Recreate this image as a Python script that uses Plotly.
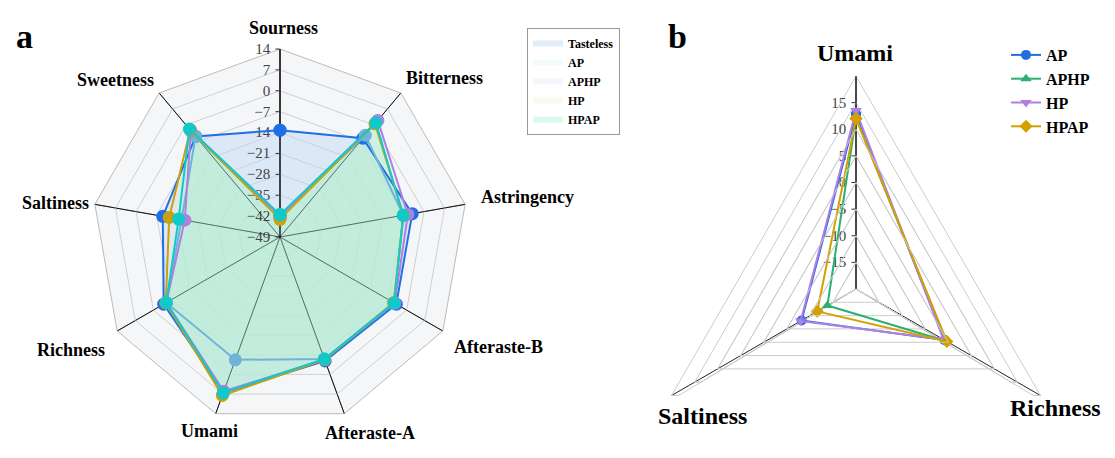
import math
import plotly.graph_objects as go

# ---------------- Panel a data ----------------
categories_a = ["Sourness", "Bitterness", "Astringency", "Afteraste-B", "Afteraste-A",
                "Umami", "Richness", "Saltiness", "Sweetness"]
series_a = ["Tasteless", "AP", "APHP", "HP", "HPAP"]
tasteless = [-13.2, -5.8, -4.0, -4.0, -4.8, 6.5, -4.0, -9.1, -5.0]
ap_a = [-42.0, -4.5, -7.0, -5.0, -5.5, -5.2, -5.0, -15.5, -5.0]
aphp_a = [-42.0, 2.0, -5.5, -4.6, -5.3, 6.0, -5.0, -16.6, -2.5]
hp_a = [-43.0, 0.5, -7.0, -5.0, -5.3, 7.5, -4.8, -11.3, -2.2]
hpap_a = [-41.5, 1.0, -7.1, -4.8, -5.5, 6.6, -5.0, -14.5, -1.8]
values_a = [tasteless, ap_a, aphp_a, hp_a, hpap_a]
ticks_a = [-49, -42, -35, -28, -21, -14, -7, 0, 7, 14]

# ---------------- Panel b data ----------------
categories_b = ["Umami", "Richness", "Saltiness"]
series_b = ["AP", "APHP", "HP", "HPAP"]
ap_b = [12.8, -0.8, -8.2]
aphp_b = [12.2, -0.5, -13.8]
hp_b = [13.5, -1.0, -8.0]
hpap_b = [12.0, -0.3, -11.6]
values_b = [ap_b, aphp_b, hp_b, hpap_b]
ticks_b = [-15, -10, -5, 0, 5, 10, 15]
range_b = [-20, 20]
lower_range_b = [-20, 10]      # lower part of panel b (bottom side of the triangle)

# ---------------- styles ----------------
SERIF = "Liberation Serif, Times New Roman, serif"
line_a = ["#1f6fe5", "#6fb3d8", "#b07fe0", "#c9a010", "#12c9c9"]
fill_a = ["rgba(190,215,243,0.45)", "rgba(195,235,215,0.2)", "rgba(200,215,240,0.2)",
          "rgba(232,240,190,0.25)", "rgba(160,245,210,0.4)"]
line_b = ["#1f6fe0", "#2ab071", "#b07fe6", "#d4a000"]
sym_b = ["circle", "triangle-up", "triangle-down", "diamond"]
GRID_B = "#cccccc"

# the page body has an 8px margin: work in screen coords and shift
OFF = 8
W, H = 1115 - OFF, 458 - OFF


def px(x):
    return (x - OFF) / W


def py(y):
    return 1 - (y - OFF) / H


def closed(v, c):
    return list(v) + [v[0]], list(c) + [c[0]]


fig = go.Figure()

# panel a: translucent areas (legend swatches) on the polygon-grid subplot
for name, v, fc in zip(series_a, values_a, fill_a):
    r, t = closed(v, categories_a)
    fig.add_trace(go.Scatterpolar(r=r, theta=t, mode="none", fill="toself",
                                  fillcolor=fc, name=name, subplot="polar",
                                  legend="legend", hoverinfo="skip"))
# panel a: lines + markers on a transparent overlay subplot
for name, v, lc in zip(series_a, values_a, line_a):
    r, t = closed(v, categories_a)
    fig.add_trace(go.Scatterpolar(r=r, theta=t, mode="lines+markers",
                                  line=dict(color=lc, width=2),
                                  marker=dict(size=13, color=lc),
                                  name=name, subplot="polar2", showlegend=False))

# panel b: bottom edge of the outermost labelled ring (grid subplot)
fig.add_trace(go.Scatterpolar(r=[ticks_b[-1], ticks_b[-1]], theta=categories_b[1:3],
                              mode="lines", line=dict(color=GRID_B, width=1),
                              subplot="polar3", showlegend=False, hoverinfo="skip",
                              cliponaxis=False))
# panel b: series (upper sector view)
for name, v, lc, s in zip(series_b, values_b, line_b, sym_b):
    r, t = closed(v, categories_b)
    fig.add_trace(go.Scatterpolar(r=r, theta=t, mode="lines+markers",
                                  line=dict(color=lc, width=2),
                                  marker=dict(size=10, color=lc, symbol=s),
                                  name=name, subplot="polar4", legend="legend2",
                                  cliponaxis=False))
# panel b: the Richness-Saltiness side of each series (lower full-circle view)
for name, v, lc in zip(series_b, values_b, line_b):
    fig.add_trace(go.Scatterpolar(r=v[1:3], theta=categories_b[1:3], mode="lines",
                                  line=dict(color=lc, width=2), name=name,
                                  subplot="polar5", showlegend=False, hoverinfo="skip"))

# ---------- geometry (screen px) ----------
ca, ra = (280, 237), 188
cb, rb = (856, 289), 213
sector_b = [-31, 211]
rb_low = rb * (lower_range_b[1] - lower_range_b[0]) / (range_b[1] - range_b[0])


def dom_full(c, r):
    cx, cy = c[0] - OFF, c[1] - OFF
    return [(cx - r) / W, (cx + r) / W], [1 - (cy + r) / H, 1 - (cy - r) / H]


def dom_sector(c, r, sec):
    cx, cy = c[0] - OFF, c[1] - OFF
    ymin = min(0, math.sin(math.radians(sec[0])), math.sin(math.radians(sec[1])))
    top, bot = cy - r, cy - ymin * r
    return [(cx - r) / W, (cx + r) / W], [1 - bot / H, 1 - top / H]


dxa, dya = dom_full(ca, ra)
dxb, dyb = dom_sector(cb, rb, sector_b)
dxl, dyl = dom_full(cb, rb_low)

labels_a_pos = {"Sourness": (283, 28), "Bitterness": (444, 78), "Astringency": (527, 197),
                "Afteraste-B": (498, 347), "Afteraste-A": (370, 433), "Umami": (209, 431),
                "Richness": (71, 350), "Saltiness": (55, 203), "Sweetness": (115, 80)}
labels_b_pos = {"Umami": (855, 53), "Saltiness": (702, 416), "Richness": (1055, 408)}

ann = []
for c in categories_a:
    x, y = labels_a_pos[c]
    ann.append(dict(text=c, x=px(x), y=py(y), xref="paper", yref="paper", showarrow=False,
                    xanchor="center", yanchor="middle",
                    font=dict(size=18, family=SERIF, weight="bold", color="black")))
for c in categories_b:
    x, y = labels_b_pos[c]
    ann.append(dict(text=c, x=px(x), y=py(y), xref="paper", yref="paper", showarrow=False,
                    xanchor="center", yanchor="middle",
                    font=dict(size=24, family=SERIF, weight="bold", color="black")))
for letter, x in (("a", 24), ("b", 677)):
    ann.append(dict(text=letter, x=px(x), y=py(37), xref="paper", yref="paper",
                    showarrow=False, xanchor="center", yanchor="middle",
                    font=dict(size=34, family=SERIF, weight="bold", color="black")))

hidden_radial = dict(showgrid=False, showline=False, showticklabels=False, ticks="")
hidden_angular = dict(showgrid=False, showline=False, showticklabels=False, ticks="")

fig.update_layout(
    width=W, height=H,
    margin=dict(l=0, r=0, t=0, b=0),
    paper_bgcolor="white",
    font=dict(family=SERIF, color="black"),
    polar=dict(
        domain=dict(x=dxa, y=dya),
        gridshape="linear",
        bgcolor="#f5f6f8",
        angularaxis=dict(categoryarray=categories_a, direction="clockwise", rotation=90,
                         gridcolor="#222", gridwidth=1, showline=True, linecolor="#bbbbbb",
                         ticks="", showticklabels=False),
        radialaxis=dict(range=[-49, 14], tickvals=ticks_a, angle=90, side="counterclockwise",
                        tickangle=90, showline=True, linecolor="black", linewidth=1,
                        gridcolor="#cfcfd4", ticks="outside", ticklen=4, tickcolor="#333",
                        layer="above traces",
                        tickfont=dict(size=15, family=SERIF, color="#444")),
    ),
    polar2=dict(
        domain=dict(x=dxa, y=dya),
        bgcolor="rgba(0,0,0,0)",
        angularaxis=dict(categoryarray=categories_a, direction="clockwise", rotation=90,
                         gridcolor="rgba(0,0,0,0.45)", gridwidth=1, showline=False,
                         ticks="", showticklabels=False),
        radialaxis=dict(range=[-49, 14], angle=90, **hidden_radial),
    ),
    polar3=dict(
        domain=dict(x=dxb, y=dyb),
        sector=sector_b,
        gridshape="linear",
        bgcolor="white",
        angularaxis=dict(categoryarray=categories_b, direction="clockwise", rotation=90,
                         gridcolor="#222", gridwidth=1, showline=True, linecolor=GRID_B,
                         ticks="", showticklabels=False),
        radialaxis=dict(range=range_b, tickvals=ticks_b, angle=90, side="counterclockwise",
                        tickangle=90, showline=True, linecolor="black", linewidth=1,
                        gridcolor=GRID_B, ticks="outside", ticklen=4, tickcolor="#333",
                        tickfont=dict(size=15, family=SERIF, color="#444")),
    ),
    polar4=dict(
        domain=dict(x=dxb, y=dyb),
        sector=sector_b,
        bgcolor="rgba(0,0,0,0)",
        angularaxis=dict(categoryarray=categories_b, direction="clockwise", rotation=90,
                         **hidden_angular),
        radialaxis=dict(range=range_b, angle=90, **hidden_radial),
    ),
    polar5=dict(
        domain=dict(x=dxl, y=dyl),
        gridshape="linear",
        bgcolor="rgba(0,0,0,0)",
        angularaxis=dict(categoryarray=categories_b, direction="clockwise", rotation=90,
                         showgrid=False, showline=True, linecolor=GRID_B, linewidth=1,
                         showticklabels=False, ticks=""),
        radialaxis=dict(range=lower_range_b,
                        tickvals=[t for t in ticks_b if t <= lower_range_b[1]],
                        angle=90, showgrid=True, gridcolor=GRID_B, showline=False,
                        showticklabels=False, ticks=""),
    ),
    legend=dict(x=px(527), y=py(28), xanchor="left", yanchor="top",
                bordercolor="#999999", borderwidth=1, bgcolor="white",
                font=dict(size=12, family=SERIF, weight="bold"), tracegroupgap=0),
    legend2=dict(x=px(1006), y=py(38), xanchor="left", yanchor="top",
                 bgcolor="rgba(0,0,0,0)",
                 font=dict(size=16, family=SERIF, weight="bold")),
    annotations=ann,
)

fig.write_html("out.html")
